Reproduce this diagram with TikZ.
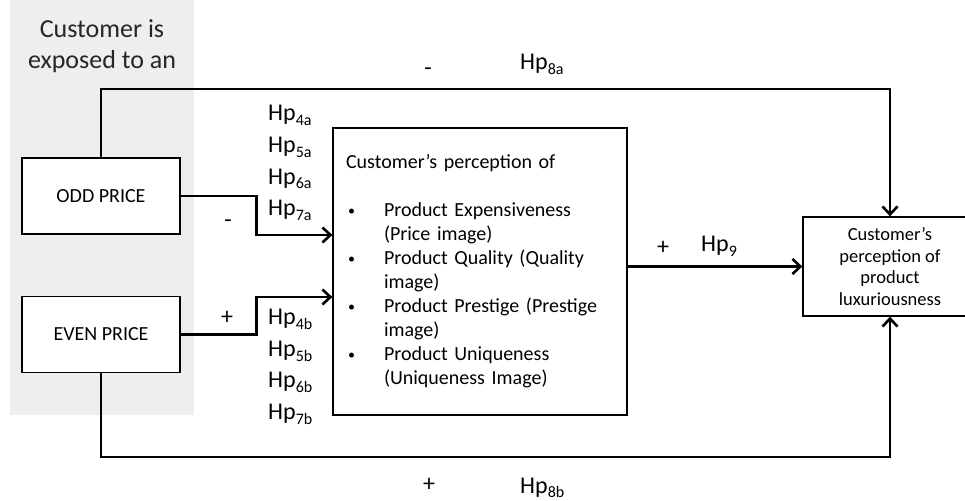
\documentclass[tikz,border=0pt]{standalone}
\usepackage{fontspec}
\setmainfont{Carlito}
\usetikzlibrary{arrows.meta,positioning}
\definecolor{bggray}{RGB}{238,238,238}
\newcommand{\Hp}[1]{Hp\raisebox{-4.5bp}{\fontsize{16bp}{16bp}\selectfont #1}}
\newcommand{\bul}{\makebox[38bp][l]{\hspace{2bp}\raisebox{1bp}{\fontsize{14bp}{14bp}\selectfont\textbullet}}}
\newcommand{\ind}{\hspace*{38bp}}

\begin{document}
\begin{tikzpicture}[>={Straight Barb[length=8bp,width=15bp]},
  box/.style={draw,line width=1.3bp,fill=white,inner sep=0pt},
  link/.style={->,line width=2.6bp},
  hp/.style={anchor=base west,inner sep=0pt,font=\fontsize{24bp}{28bp}\selectfont},
  sign/.style={anchor=base,inner sep=0pt,font=\fontsize{24bp}{28bp}\selectfont},
]
%
  \useasboundingbox (0bp,0bp) rectangle (965bp,501bp);
  \fill [bggray] (10bp,86bp) rectangle (194bp,501bp);
  \node (title) at (102bp,455bp) [align=center,inner sep=0pt,text=black!85,font=\fontsize{26bp}{31.5bp}\selectfont] {Customer is\\exposed to an};
%
  \node (odd) at (101bp,305bp) [box,minimum width=158bp,minimum height=76bp,font=\fontsize{20bp}{24bp}\selectfont] {ODD PRICE};
  \node (even) at (101bp,166.5bp) [box,minimum width=158bp,minimum height=76bp,font=\fontsize{20bp}{24bp}\selectfont] {EVEN PRICE};
  \node (big) at (480bp,229.5bp) [box,minimum width=294bp,minimum height=287bp,text width=268bp,align=left,font=\fontsize{20bp}{24bp}\selectfont] {Customer’s perception of\\[24bp]
    \bul Product Expensiveness\\
    \ind (Price image)\\
    \bul Product Quality (Quality\\
    \ind image)\\
    \bul Product Prestige (Prestige\\
    \ind image)\\
    \bul Product Uniqueness\\
    \ind (Uniqueness Image)};
  \node (lux) at (890bp,234.5bp) [box,minimum width=174bp,minimum height=99bp,align=center,font=\fontsize{18.5bp}{21.7bp}\selectfont] {Customer’s\\perception of\\product\\luxuriousness};
%
  \coordinate (top) at (101bp,412bp);
  \coordinate (bot) at (101bp,44bp);
  \draw [link] (odd.north) -- (top) -| (lux.north);
  \draw [link] (even.south) -- (bot) -| (lux.south);
  \draw [link] (odd.east) -- ++(76bp,0) |- ([yshift=36.5bp]big.west);
  \draw [link] (even.east) -- ++(76bp,0) |- ([yshift=-25.5bp]big.west);
  \draw [link] (big.east |- lux.west) -- (lux.west);
%
  \node (hp4a) at (268bp,380bp) [hp] {\Hp{4a}};
  \node (hp5a) at (268bp,348bp) [hp] {\Hp{5a}};
  \node (hp6a) at (268bp,316.5bp) [hp] {\Hp{6a}};
  \node (hp7a) at (268bp,285bp) [hp] {\Hp{7a}};
  \node (hp4b) at (268bp,176bp) [hp] {\Hp{4b}};
  \node (hp5b) at (268bp,144bp) [hp] {\Hp{5b}};
  \node (hp6b) at (268bp,113bp) [hp] {\Hp{6b}};
  \node (hp7b) at (268bp,81bp) [hp] {\Hp{7b}};
  \node (neg1) at (228bp,273bp) [sign] {-};
  \node (pos1) at (227bp,176bp) [sign] {+};
  \node (neg2) at (428bp,425bp) [sign] {-};
  \node (hp8a) at (520bp,431bp) [hp] {\Hp{8a}};
  \node (pos2) at (663bp,246bp) [sign] {+};
  \node (hp9) at (701bp,249bp) [hp] {\Hp{9}};
  \node (pos3) at (429bp,10bp) [sign] {+};
  \node (hp8b) at (520bp,8bp) [hp] {\Hp{8b}};
%
\end{tikzpicture}
\end{document}
